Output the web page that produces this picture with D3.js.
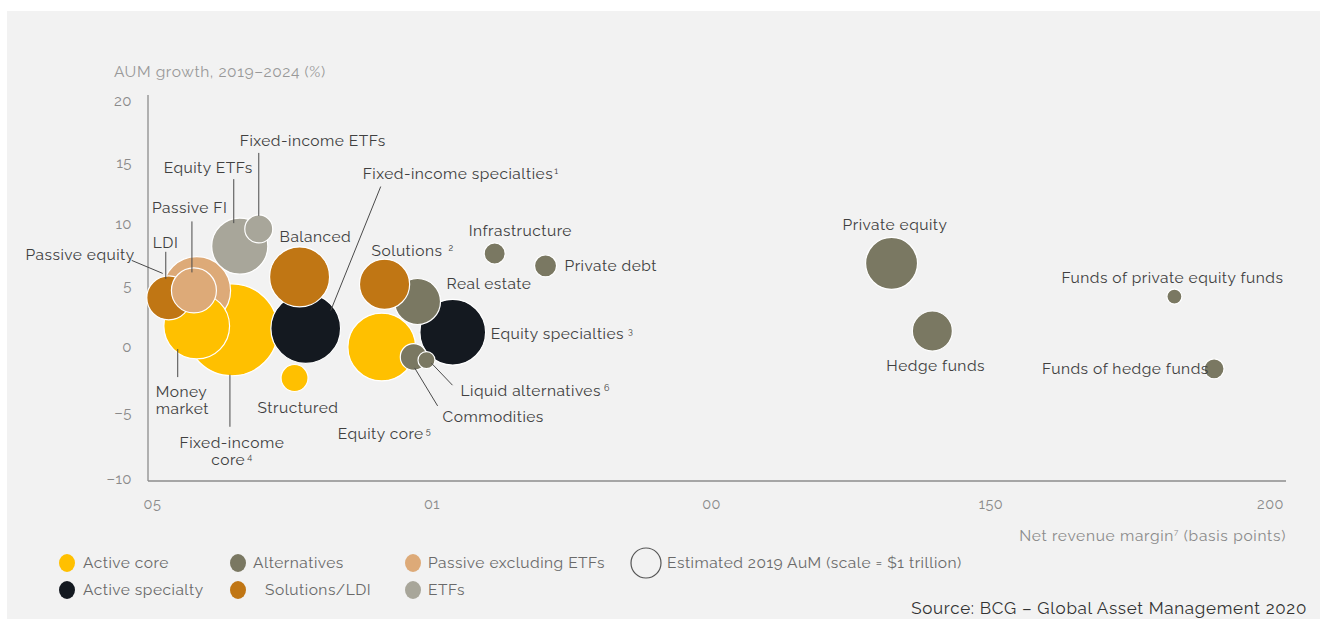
<!DOCTYPE html>
<html>
<head>
<meta charset="utf-8">
<script src="https://cdn.jsdelivr.net/npm/d3@7"></script>
<style>
  body { margin: 0; background: #ffffff; }
  svg { display: block; font-family: Raleway, Lato, "Open Sans", sans-serif; }
  svg text { letter-spacing: 0.5px; }
</style>
</head>
<body>
<svg id="chart" width="1322" height="619"></svg>
<script>
// ---- data ---------------------------------------------------------------
// Asset classes, in drawing order (later ones sit on top)
const names = [
  "Fixed-income core", "Passive equity", "Money market", "LDI", "Passive FI",
  "Equity ETFs", "Fixed-income ETFs", "Fixed-income specialties", "Balanced",
  "Structured", "Equity specialties", "Real estate", "Solutions", "Equity core",
  "Commodities", "Liquid alternatives", "Infrastructure", "Private debt",
  "Private equity", "Hedge funds", "Funds of private equity funds",
  "Funds of hedge funds"
];
const groups = [
  "Active core", "Passive excluding ETFs", "Active core", "Solutions/LDI",
  "Passive excluding ETFs", "ETFs", "ETFs", "Active specialty", "Solutions/LDI",
  "Active core", "Active specialty", "Alternatives", "Solutions/LDI",
  "Active core", "Alternatives", "Alternatives", "Alternatives", "Alternatives",
  "Alternatives", "Alternatives", "Alternatives", "Alternatives"
];
// Net revenue margin (basis points)
const revenueMargin = [14.3, 8.0, 8.0, 3.0, 7.5, 15.7, 19.1, 27.5, 26.4, 25.5,
  53.8, 47.5, 41.6, 41.1, 46.8, 49.1, 61.3, 70.4, 132.3, 139.6, 182.9, 190.0];
// AuM growth 2019-2024 (%)
const aumGrowth = [1.4, 4.6, 1.7, 4.0, 4.6, 8.2, 9.6, 1.5, 5.7, -2.35,
  1.2, 3.7, 5.1, 0.0, -0.75, -1.0, 7.6, 6.6, 6.8, 1.3, 4.1, -1.65];
// Estimated 2019 AuM ($ trillion)
const aum2019 = [9.4, 5.1, 4.8, 2.15, 2.25, 3.5, 0.87, 5.4, 4.0, 0.81,
  4.8, 2.35, 2.8, 5.1, 0.79, 0.32, 0.49, 0.54, 3.0, 1.78, 0.25, 0.44];
// Footnote markers
const footnotes = {
  "Fixed-income specialties": "1", "Solutions": "2", "Equity specialties": "3",
  "Fixed-income core": "4", "Equity core": "5", "Liquid alternatives": "6"
};

const legendGroups = ["Active core", "Alternatives", "Passive excluding ETFs",
  "Active specialty", "Solutions/LDI", "ETFs"];
const yTicks = [20, 15, 10, 5, 0, -5, -10];
const xTicks = [0, 50, 100, 150, 200];
const xTickLabels = ["05", "01", "00", "150", "200"];

// ---- style ---------------------------------------------------------------
const colors = {
  "Active core": "#FFC000",
  "Alternatives": "#7A7862",
  "Passive excluding ETFs": "#DDAA78",
  "Active specialty": "#141920",
  "Solutions/LDI": "#C07614",
  "ETFs": "#A8A69A"
};
const textColor = "#404040";
const mutedText = "#8a8a8a";

// ---- scales --------------------------------------------------------------
const x = d3.scaleLinear().domain([0, 200]).range([152, 1270]);
const y = d3.scaleLinear().domain([-10, 0, 20]).range([479, 347, 101]);
const r = d3.scaleSqrt().domain([0, 1]).range([0, 15]);
const color = d3.scaleOrdinal().domain(Object.keys(colors)).range(Object.values(colors));

const svg = d3.select("#chart");

// panel background
svg.append("rect").attr("x", 7).attr("y", 11).attr("width", 1313).attr("height", 608)
  .attr("fill", "#F2F2F2");

// ---- axes ----------------------------------------------------------------
const axisY0 = 481, axisX0 = 148;
svg.append("line").attr("x1", axisX0).attr("x2", axisX0).attr("y1", 95).attr("y2", axisY0)
  .attr("stroke", "#8c8c8c").attr("stroke-width", 1.3);
svg.append("line").attr("x1", axisX0).attr("x2", 1286).attr("y1", axisY0).attr("y2", axisY0)
  .attr("stroke", "#8c8c8c").attr("stroke-width", 1.3);

const yAxis = svg.append("g").attr("transform", `translate(${axisX0},0)`)
  .call(d3.axisLeft(y).tickValues(yTicks).tickSize(0).tickPadding(16)
    .tickFormat(d => d < 0 ? "\u2013" + Math.abs(d) : d));
yAxis.select(".domain").remove();
yAxis.selectAll("text").attr("fill", mutedText).attr("font-size", 15)
  .attr("font-family", "Raleway, Lato, sans-serif");

const xAxis = svg.append("g").attr("transform", `translate(0,${axisY0})`)
  .call(d3.axisBottom(x).tickValues(xTicks).tickSize(0).tickPadding(18)
    .tickFormat((d, i) => xTickLabels[i]));
xAxis.select(".domain").remove();
xAxis.selectAll("text").attr("fill", mutedText).attr("font-size", 14.5)
  .attr("font-family", "Raleway, Lato, sans-serif");

svg.append("text").attr("x", 114).attr("y", 77)
  .attr("fill", "#999").attr("font-size", 15.5).style("letter-spacing", "0.6px")
  .text("AUM growth, 2019\u20132024 (%)");

const xTitle = svg.append("text").attr("x", 1286).attr("y", 541)
  .attr("text-anchor", "end").attr("fill", mutedText).attr("font-size", 15.5)
  .style("letter-spacing", "0.7px");
xTitle.append("tspan").text("Net revenue margin");
xTitle.append("tspan").attr("font-size", 8).attr("dy", -6).text("7");
xTitle.append("tspan").attr("dy", 6).text(" (basis points)");

// ---- bubbles ---------------------------------------------------------------
const rows = names.map((n, i) => ({
  name: n, group: groups[i], margin: revenueMargin[i], growth: aumGrowth[i], aum: aum2019[i]
}));

svg.append("g").selectAll("circle").data(rows).join("circle")
  .attr("cx", d => x(d.margin))
  .attr("cy", d => y(d.growth))
  .attr("r", d => r(d.aum))
  .attr("fill", d => color(d.group))
  .attr("stroke", "#ffffff")
  .attr("stroke-width", 1.2);

// ---- labels --------------------------------------------------------------
// label placement relative to each bubble centre (px); leader = [dx1, dy1, dx2, dy2]
const labelLayout = {
  "Fixed-income core": { dx: 0, dy: 113, anchor: "middle", lines: ["Fixed-income", "core"], leader: [-2, 45, -2, 97] },
  "Passive equity": { dx: -62, dy: -36, anchor: "end", leader: [-65, -30, -34, -17] },
  "Money market": { dx: -41, dy: 65, anchor: "start", lines: ["Money", "market"], leader: [-19, 23, -19, 51] },
  "LDI": { dx: -16, dy: -55, anchor: "start", leader: [-3, -46, -3, -19] },
  "Passive FI": { dx: -42, dy: -83, anchor: "start", leader: [-2, -69, -2, -18] },
  "Equity ETFs": { dx: -76, dy: -79, anchor: "start", leader: [-6, -67, -6, -23] },
  "Fixed-income ETFs": { dx: -19, dy: -88, anchor: "start", leader: [0, -76, 0, -13] },
  "Fixed-income specialties": { dx: 57, dy: -155, anchor: "start", supGap: 1, leader: [75, -142, 25, -18] },
  "Balanced": { dx: -20, dy: -40, anchor: "start" },
  "Structured": { dx: -37, dy: 30, anchor: "start" },
  "Equity specialties": { dx: 38, dy: 1, anchor: "start", supGap: 4 },
  "Real estate": { dx: 29, dy: -18, anchor: "start" },
  "Solutions": { dx: -13, dy: -34, anchor: "start", supGap: 6 },
  "Equity core": { dx: -44, dy: 87, anchor: "start", supGap: 2 },
  "Commodities": { dx: 29, dy: 60, anchor: "start", leader: [1, 11, 24, 49] },
  "Liquid alternatives": { dx: 34, dy: 30, anchor: "start", supGap: 3, leader: [5, 3, 26, 25] },
  "Infrastructure": { dx: -26, dy: -23, anchor: "start" },
  "Private debt": { dx: 19, dy: 0, anchor: "start" },
  "Private equity": { dx: -49, dy: -39, anchor: "start" },
  "Hedge funds": { dx: -46, dy: 35, anchor: "start" },
  "Funds of private equity funds": { dx: -113, dy: -19, anchor: "start" },
  "Funds of hedge funds": { dx: -172, dy: 0, anchor: "start" }
};

const leaders = svg.append("g").attr("stroke", "#4a4a4a").attr("stroke-width", 1);
const labels = svg.append("g").attr("fill", textColor).attr("font-size", 15.5);

rows.forEach(d => {
  const L = labelLayout[d.name];
  const cx = x(d.margin), cy = y(d.growth);
  if (L.leader) {
    leaders.append("line")
      .attr("x1", cx + L.leader[0]).attr("y1", cy + L.leader[1])
      .attr("x2", cx + L.leader[2]).attr("y2", cy + L.leader[3]);
  }
  const lines = L.lines || [d.name];
  const note = footnotes[d.name];
  lines.forEach((line, li) => {
    const t = labels.append("text")
      .attr("x", cx + L.dx)
      .attr("y", cy + L.dy + li * 17)
      .attr("dy", "0.35em")
      .attr("text-anchor", L.anchor);
    t.append("tspan").text(line);
    if (note && li === lines.length - 1) {
      t.append("tspan").attr("dx", L.supGap !== undefined ? L.supGap : 2)
        .attr("dy", -5).attr("font-size", 9).text(note);
    }
  });
});

// ---- legend --------------------------------------------------------------
const legendPos = [
  { cx: 67, cy: 563, tx: 83 }, { cx: 238, cy: 563, tx: 253 }, { cx: 413, cy: 563, tx: 428 },
  { cx: 67, cy: 590, tx: 83 }, { cx: 238, cy: 590, tx: 265 }, { cx: 413, cy: 590, tx: 428 }
];
const legend = svg.append("g");
legendGroups.forEach((g, i) => {
  const p = legendPos[i];
  legend.append("ellipse").attr("cx", p.cx).attr("cy", p.cy).attr("rx", 8).attr("ry", 9)
    .attr("fill", color(g));
  legend.append("text").attr("x", p.tx).attr("y", p.cy).attr("dy", "0.35em")
    .attr("fill", "#6a6a6a").attr("font-size", 15.5).text(g);
});
legend.append("circle").attr("cx", 646).attr("cy", 563).attr("r", r(1))
  .attr("fill", "none").attr("stroke", "#555").attr("stroke-width", 1.2);
legend.append("text").attr("x", 667).attr("y", 563).attr("dy", "0.35em")
  .attr("fill", "#6a6a6a").attr("font-size", 15.5)
  .text("Estimated 2019 AuM (scale = $1 trillion)");

svg.append("text").attr("x", 1307).attr("y", 608).attr("dy", "0.35em")
  .attr("text-anchor", "end").attr("fill", "#333").attr("font-size", 17)
  .style("letter-spacing", "0.7px")
  .text("Source: BCG \u2013 Global Asset Management 2020");
</script>
</body>
</html>
